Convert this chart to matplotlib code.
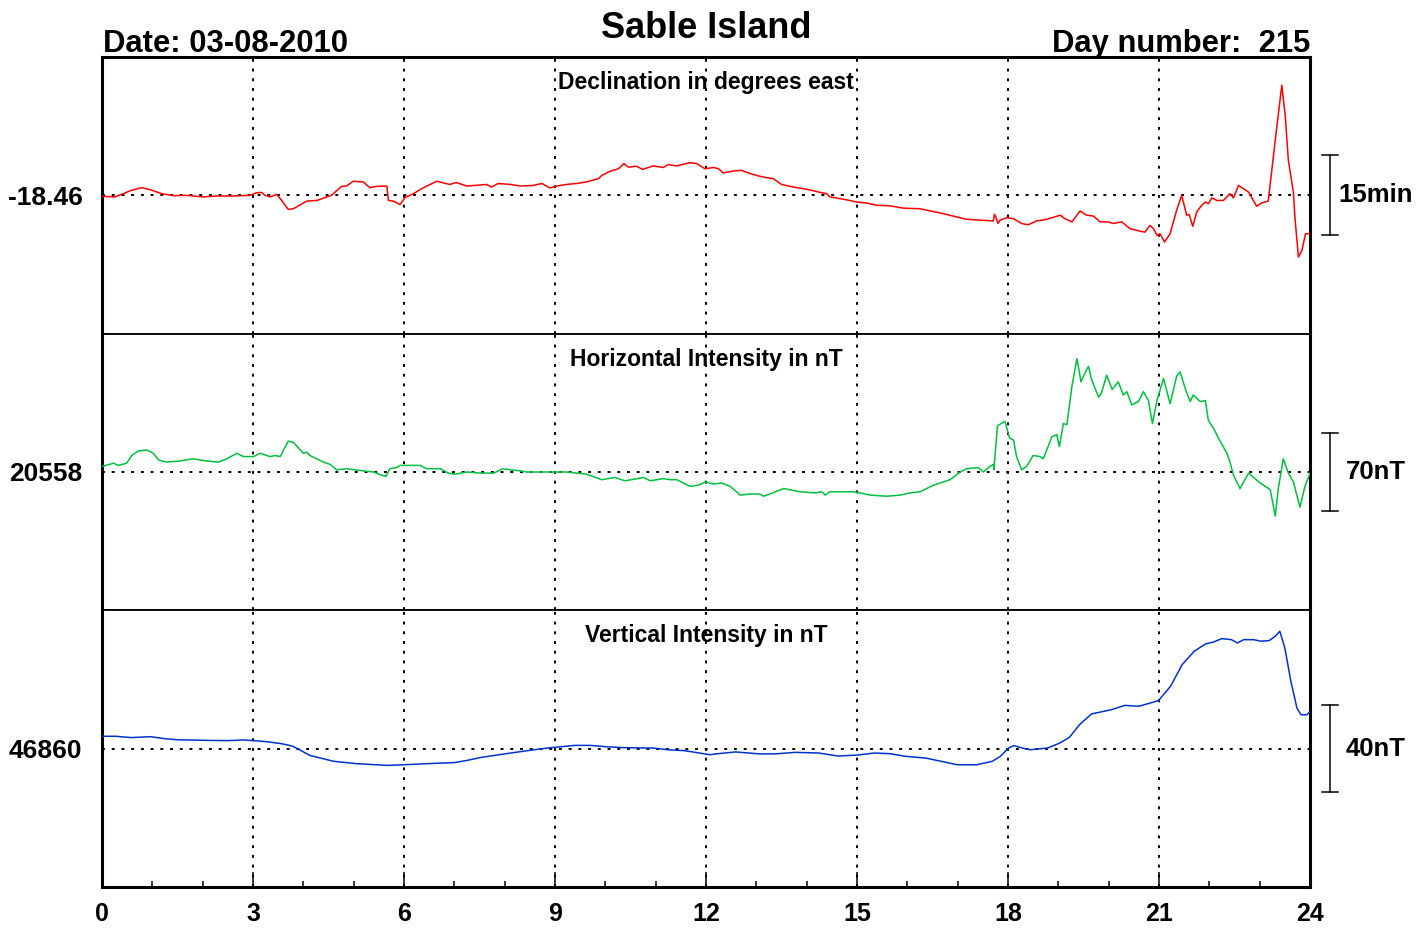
import matplotlib.pyplot as plt
import matplotlib.transforms as mtransforms
from matplotlib.ticker import MultipleLocator

plt.rcParams['font.family'] = ['Liberation Sans', 'DejaVu Sans']
plt.rcParams['font.weight'] = 'bold'

STATION = 'Sable Island'
DATE_TEXT = 'Date: 03-08-2010'
DAY_TEXT = 'Day number:  215'
HOUR_TICKS = [0, 3, 6, 9, 12, 15, 18, 21, 24]

# Declination (degrees east)
D_HOURS = [0.00, 0.26, 0.42, 0.59, 0.79, 0.95, 1.19, 1.42, 1.68, 2.01,
           2.28, 2.61, 2.94, 3.07, 3.17, 3.24, 3.34, 3.47, 3.57, 3.70,
           3.80, 4.07, 4.27, 4.56, 4.76, 4.86, 4.99, 5.19, 5.32, 5.46,
           5.66, 5.69, 5.79, 5.92, 6.02, 6.19, 6.35, 6.65, 6.91, 7.04,
           7.25, 7.64, 7.74, 7.87, 8.11, 8.31, 8.57, 8.74, 8.90, 9.00,
           9.23, 9.43, 9.63, 9.86, 9.93, 10.09, 10.26, 10.37, 10.46, 10.62,
           10.74, 10.95, 11.15, 11.25, 11.42, 11.68, 11.82, 11.98, 12.15, 12.25,
           12.34, 12.54, 12.71, 12.84, 13.01, 13.14, 13.34, 13.50, 13.73, 14.00,
           14.33, 14.40, 14.46, 14.73, 15.00, 15.19, 15.39, 15.66, 15.92, 16.25,
           16.65, 17.18, 17.71, 17.73, 17.76, 17.80, 17.84, 17.97, 18.11, 18.27,
           18.40, 18.57, 18.77, 19.04, 19.13, 19.27, 19.43, 19.56, 19.70, 19.83,
           19.99, 20.09, 20.26, 20.42, 20.62, 20.72, 20.82, 20.89, 20.96, 21.02,
           21.11, 21.22, 21.35, 21.45, 21.55, 21.60, 21.67, 21.75, 21.85, 21.92,
           21.98, 22.05, 22.15, 22.28, 22.41, 22.48, 22.58, 22.78, 22.94, 23.04,
           23.17, 23.24, 23.34, 23.44, 23.51, 23.57, 23.67, 23.70, 23.77, 23.84,
           23.91, 24.00]
D_VALUES = [-18.463, -18.465, -18.455, -18.444, -18.436, -18.442, -18.455, -18.461, -18.460, -18.465,
            -18.462, -18.462, -18.460, -18.452, -18.451, -18.460, -18.465, -18.457, -18.476, -18.504,
            -18.502, -18.478, -18.476, -18.460, -18.432, -18.431, -18.416, -18.418, -18.436, -18.432,
            -18.431, -18.476, -18.478, -18.489, -18.467, -18.455, -18.439, -18.416, -18.426, -18.420,
            -18.431, -18.426, -18.434, -18.423, -18.426, -18.431, -18.429, -18.423, -18.437, -18.432,
            -18.426, -18.423, -18.418, -18.408, -18.398, -18.385, -18.377, -18.361, -18.372, -18.369,
            -18.379, -18.368, -18.373, -18.364, -18.368, -18.358, -18.361, -18.377, -18.373, -18.377,
            -18.390, -18.384, -18.382, -18.390, -18.398, -18.403, -18.408, -18.426, -18.434, -18.441,
            -18.453, -18.455, -18.465, -18.472, -18.481, -18.484, -18.491, -18.493, -18.500, -18.502,
            -18.515, -18.535, -18.540, -18.519, -18.528, -18.548, -18.538, -18.530, -18.533, -18.548,
            -18.552, -18.540, -18.535, -18.522, -18.533, -18.543, -18.509, -18.522, -18.525, -18.543,
            -18.543, -18.548, -18.543, -18.564, -18.572, -18.575, -18.554, -18.564, -18.585, -18.580,
            -18.606, -18.580, -18.507, -18.460, -18.522, -18.520, -18.557, -18.512, -18.491, -18.481,
            -18.486, -18.468, -18.476, -18.476, -18.455, -18.468, -18.429, -18.450, -18.494, -18.484,
            -18.478, -18.382, -18.247, -18.116, -18.215, -18.351, -18.450, -18.528, -18.653, -18.632,
            -18.580, -18.580]

# Horizontal intensity (nT)
H_HOURS = [0.00, 0.23, 0.32, 0.49, 0.59, 0.72, 0.89, 1.02, 1.12, 1.28,
           1.55, 1.81, 2.08, 2.31, 2.48, 2.68, 2.81, 3.01, 3.14, 3.34,
           3.44, 3.54, 3.70, 3.80, 4.00, 4.07, 4.13, 4.40, 4.53, 4.66,
           4.86, 5.19, 5.39, 5.56, 5.64, 5.72, 5.85, 5.92, 6.19, 6.32,
           6.45, 6.72, 6.88, 7.01, 7.25, 7.51, 7.78, 7.97, 8.11, 8.31,
           8.44, 8.70, 9.00, 9.23, 9.43, 9.63, 9.93, 10.19, 10.39, 10.76,
           10.89, 11.15, 11.29, 11.42, 11.68, 11.85, 11.98, 12.15, 12.31, 12.48,
           12.68, 12.87, 13.07, 13.14, 13.27, 13.54, 13.87, 14.17, 14.30, 14.37,
           14.46, 14.93, 15.06, 15.26, 15.59, 15.86, 16.05, 16.25, 16.52, 16.85,
           17.05, 17.18, 17.41, 17.51, 17.64, 17.71, 17.72, 17.79, 17.94, 18.03,
           18.11, 18.17, 18.27, 18.37, 18.50, 18.64, 18.70, 18.77, 18.87, 18.97,
           19.02, 19.10, 19.17, 19.27, 19.37, 19.45, 19.53, 19.60, 19.66, 19.80,
           19.86, 19.96, 20.07, 20.19, 20.29, 20.36, 20.46, 20.59, 20.69, 20.79,
           20.87, 20.96, 21.09, 21.22, 21.35, 21.42, 21.52, 21.62, 21.68, 21.82,
           21.92, 21.98, 22.08, 22.18, 22.25, 22.35, 22.41, 22.48, 22.61, 22.78,
           23.01, 23.21, 23.31, 23.37, 23.47, 23.57, 23.67, 23.80, 23.90, 24.00]
H_VALUES = [20563, 20566, 20564, 20566, 20573, 20577, 20578, 20575, 20569, 20567,
            20568, 20570, 20568, 20567, 20570, 20575, 20572, 20572, 20575, 20572,
            20573, 20572, 20586, 20585, 20575, 20576, 20573, 20567, 20565, 20560,
            20561, 20559, 20558, 20555, 20554, 20561, 20562, 20564, 20564, 20564,
            20561, 20561, 20557, 20556, 20558, 20557, 20557, 20561, 20560, 20559,
            20558, 20558, 20558, 20558, 20557, 20556, 20551, 20553, 20550, 20553,
            20550, 20552, 20551, 20551, 20545, 20546, 20549, 20547, 20548, 20545,
            20537, 20538, 20538, 20536, 20538, 20543, 20540, 20539, 20540, 20537,
            20540, 20540, 20539, 20537, 20536, 20537, 20539, 20540, 20546, 20551,
            20558, 20561, 20562, 20558, 20563, 20565, 20560, 20600, 20604, 20589,
            20587, 20572, 20560, 20563, 20573, 20572, 20570, 20578, 20590, 20592,
            20581, 20602, 20601, 20636, 20661, 20640, 20648, 20654, 20642, 20626,
            20630, 20646, 20633, 20640, 20628, 20631, 20619, 20622, 20631, 20623,
            20602, 20623, 20643, 20620, 20645, 20649, 20634, 20622, 20628, 20622,
            20623, 20605, 20598, 20589, 20583, 20575, 20567, 20555, 20543, 20557,
            20548, 20542, 20518, 20543, 20570, 20557, 20549, 20526, 20545, 20557]

# Vertical intensity (nT)
Z_HOURS = [0.00, 0.27, 0.58, 0.97, 1.24, 1.51, 2.12, 2.51, 2.82, 3.01,
           3.28, 3.59, 3.79, 3.98, 4.13, 4.60, 5.06, 5.68, 5.99, 6.45,
           7.00, 7.23, 7.54, 8.00, 8.46, 8.85, 9.08, 9.39, 9.70, 10.01,
           10.32, 10.78, 10.94, 11.25, 11.56, 11.79, 12.08, 12.20, 12.59, 13.06,
           13.37, 13.77, 14.24, 14.63, 15.02, 15.34, 15.65, 15.96, 16.36, 16.67,
           16.99, 17.38, 17.69, 17.85, 18.01, 18.12, 18.28, 18.44, 18.79, 19.03,
           19.22, 19.42, 19.66, 19.81, 20.05, 20.32, 20.60, 20.83, 20.99, 21.23,
           21.46, 21.70, 21.93, 22.09, 22.25, 22.44, 22.56, 22.68, 22.88, 23.03,
           23.19, 23.31, 23.40, 23.50, 23.62, 23.74, 23.82, 23.94, 24.00]
Z_VALUES = [46865.7, 46865.7, 46865.1, 46865.5, 46864.6, 46864.1, 46863.8, 46863.7, 46864.0, 46863.7,
            46863.2, 46862.2, 46861.1, 46858.8, 46856.9, 46854.2, 46853.1, 46852.3, 46852.6, 46853.1,
            46853.6, 46854.5, 46856.0, 46857.6, 46859.1, 46860.3, 46860.8, 46861.5, 46861.5, 46860.9,
            46860.5, 46860.3, 46860.3, 46859.5, 46859.1, 46858.3, 46857.2, 46857.6, 46858.5, 46857.6,
            46857.6, 46858.3, 46858.0, 46856.6, 46857.1, 46858.0, 46857.7, 46856.5, 46855.7, 46854.2,
            46852.6, 46852.6, 46854.2, 46856.5, 46860.3, 46861.4, 46860.3, 46859.5, 46860.3, 46862.6,
            46865.2, 46871.0, 46876.0, 46876.7, 46877.9, 46879.9, 46879.5, 46881.0, 46882.1, 46888.7,
            46898.6, 46904.8, 46908.2, 46909.1, 46910.6, 46910.1, 46908.6, 46910.1, 46910.1, 46909.4,
            46909.7, 46911.7, 46914.0, 46906.3, 46891.0, 46878.7, 46875.6, 46875.6, 46877.2]

BASELINES = [-18.46, 20558, 46860]
BASELINE_LABELS = ['-18.46', '20558', '46860']
SCALE_SIZES = [0.25, 70, 40]          # 15 arc-minutes, 70 nT, 40 nT
SCALE_LABELS = ['15min', '70nT', '40nT']
HALF_RANGES = [0.4323, 125.7, 63.6]
TITLES = ['Declination in degrees east', 'Horizontal Intensity in nT', 'Vertical Intensity in nT']
COLORS = ['#ff0000', '#00c040', '#0033cc']

DOTTED = (0, (1.5, 3.5))


def style_panel(ax: plt.Axes, idx: int) -> None:
    thick, thin = 2.2, 1.3
    ax.spines['left'].set_linewidth(thick)
    ax.spines['right'].set_linewidth(thick)
    ax.spines['top'].set_linewidth(thick if idx == 0 else thin)
    ax.spines['bottom'].set_linewidth(thick if idx == 2 else thin)

    ax.set_xlim(0, 24)
    ax.set_ylim(BASELINES[idx] - HALF_RANGES[idx], BASELINES[idx] + HALF_RANGES[idx])
    ax.set_yticks([BASELINES[idx]])
    ax.set_yticklabels([BASELINE_LABELS[idx]])
    ax.tick_params(axis='y', length=0, pad=14, labelsize=19)

    if idx == 2:
        ax.set_xticks(HOUR_TICKS)
        ax.set_xticklabels([str(h) for h in HOUR_TICKS])
        ax.xaxis.set_minor_locator(MultipleLocator(1))
        ax.tick_params(axis='x', which='major', direction='in', length=10.8, width=1.1,
                       pad=11, labelsize=18)
        ax.tick_params(axis='x', which='minor', direction='in', length=4.3, width=1.1)
    else:
        ax.set_xticks([])

    for h in HOUR_TICKS[1:-1]:
        ax.axvline(h, color='black', lw=1.4, ls=DOTTED, zorder=1)
    ax.axhline(BASELINES[idx], color='black', lw=1.4, ls=DOTTED, zorder=1)

    ax.text(0.5, 1 - 32 / 276.7, TITLES[idx], transform=ax.transAxes, ha='center',
            va='baseline', fontsize=16.5, fontweight='bold')


def draw_scale_bar(ax: plt.Axes, idx: int) -> None:
    trans = mtransforms.blended_transform_factory(ax.transAxes, ax.transData)
    lo = BASELINES[idx] - SCALE_SIZES[idx] / 2
    hi = BASELINES[idx] + SCALE_SIZES[idx] / 2
    ax.plot([1.0166, 1.0166], [lo, hi], color='black', lw=1.1, transform=trans, clip_on=False)
    for y in (lo, hi):
        ax.plot([1.0100, 1.0232], [y, y], color='black', lw=1.1, transform=trans, clip_on=False)
    ax.text(1.0546, BASELINES[idx], SCALE_LABELS[idx], transform=trans, ha='center',
            va='center', fontsize=18.5, fontweight='bold')


def main() -> None:
    fig = plt.figure(figsize=(14.27, 9.30), dpi=100)
    left, width = 102 / 1427, 1208 / 1427
    panel_h = 276.67 / 930
    bottom0 = 43 / 930

    series = [(D_HOURS, D_VALUES), (H_HOURS, H_VALUES), (Z_HOURS, Z_VALUES)]
    for idx, (hours, values) in enumerate(series):
        ax = fig.add_axes([left, bottom0 + (2 - idx) * panel_h, width, panel_h])
        style_panel(ax, idx)
        ax.plot(hours, values, color=COLORS[idx], lw=1.1, zorder=3)
        draw_scale_bar(ax, idx)

    fig.text(706 / 1427, 1 - 38 / 930, STATION, ha='center', va='baseline',
             fontsize=26, fontweight='bold')
    fig.text(103 / 1427, 1 - 52 / 930, DATE_TEXT, ha='left', va='baseline',
             fontsize=22.3, fontweight='bold')
    fig.text(1310 / 1427, 1 - 52 / 930, DAY_TEXT, ha='right', va='baseline',
             fontsize=22.3, fontweight='bold')

    fig.savefig('out.png', dpi=100)


if __name__ == '__main__':
    main()
